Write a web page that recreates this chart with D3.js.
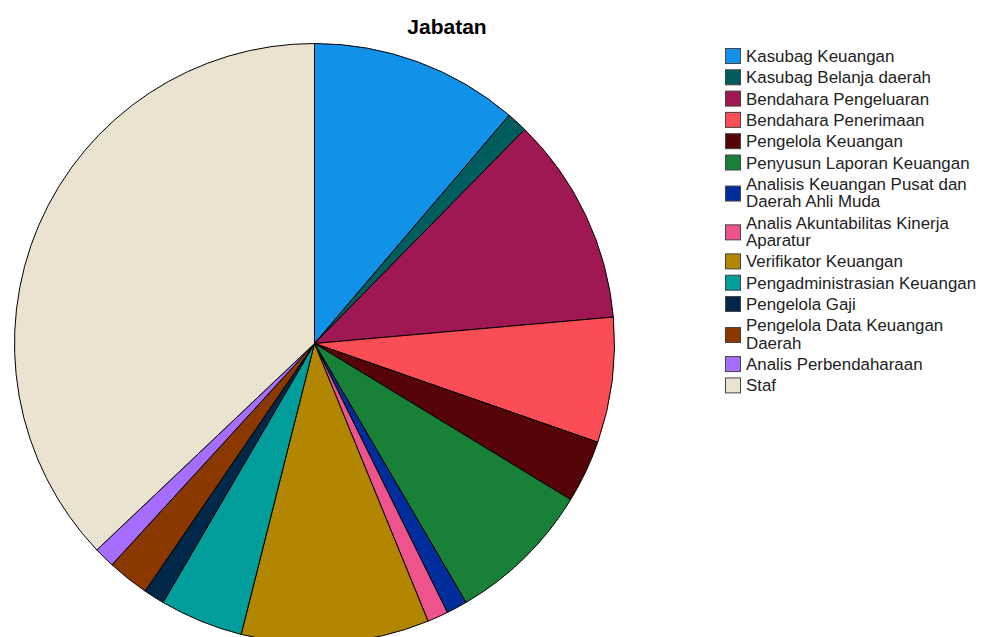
<!DOCTYPE html>
<html>
<head>
<meta charset="utf-8">
<script src="https://cdn.jsdelivr.net/npm/d3@7"></script>
<style>
  body { margin: 0; background: #fff; }
  svg { display: block; font-family: "Liberation Sans", Arial, sans-serif; }
</style>
</head>
<body>
<svg id="chart" width="984" height="637"></svg>
<script>
// jabatan categories (legend order = slice order, clockwise from 12 o'clock)
const categories = [
  ['Kasubag Keuangan'],
  ['Kasubag Belanja daerah'],
  ['Bendahara Pengeluaran'],
  ['Bendahara Penerimaan'],
  ['Pengelola Keuangan'],
  ['Penyusun Laporan Keuangan'],
  ['Analisis Keuangan Pusat dan', 'Daerah Ahli Muda'],
  ['Analis Akuntabilitas Kinerja', 'Aparatur'],
  ['Verifikator Keuangan'],
  ['Pengadministrasian Keuangan'],
  ['Pengelola Gaji'],
  ['Pengelola Data Keuangan', 'Daerah'],
  ['Analis Perbendaharaan'],
  ['Staf']
]
const counts = [10, 1, 10, 6, 3, 7, 1, 1, 9, 4, 1, 2, 1, 33]
const colors = ['#1192e8', '#005d5d', '#9f1853', '#fa4d56', '#570408', '#198038', '#002d9c',
  '#ee538b', '#b28600', '#009d9a', '#012749', '#8a3800', '#a56eff', '#e9e3d0']

const data = categories.map((c, i) => ({lines: c, value: counts[i], color: colors[i]}))

const svg = d3.select('#chart')

svg.append('text')
  .attr('x', 447)
  .attr('y', 34)
  .attr('text-anchor', 'middle')
  .attr('font-size', 21)
  .attr('font-weight', 'bold')
  .attr('fill', '#000')
  .text('Jabatan')

const cx = 314.5
const cy = 343.5
const radius = 300

const pie = d3.pie().sort(null).value(d => d.value)
const arc = d3.arc().innerRadius(0).outerRadius(radius)

svg.append('g')
  .attr('transform', `translate(${cx}, ${cy})`)
  .selectAll('path')
  .data(pie(data))
  .join('path')
  .attr('d', arc)
  .attr('fill', d => d.data.color)
  .attr('stroke', '#000')
  .attr('stroke-width', 1)
  .attr('stroke-linejoin', 'round')

// legend
const legend = svg.append('g').attr('transform', 'translate(725, 0)')
const rowStep = 21.3
const lineStep = 17.5
let y = 56
data.forEach(d => {
  const n = d.lines.length
  const mid = y + (n - 1) * lineStep / 2 + (n > 1 ? 1 : 0)
  legend.append('rect')
    .attr('x', 0.5)
    .attr('y', mid - 7.5)
    .attr('width', 15)
    .attr('height', 15)
    .attr('fill', d.color)
    .attr('stroke', '#444')
    .attr('stroke-width', 1)
  d.lines.forEach((t, j) => {
    legend.append('text')
      .attr('x', 21)
      .attr('y', y + j * lineStep)
      .attr('dy', '0.36em')
      .attr('font-size', 16.9)
      .attr('fill', '#222')
      .text(t)
  })
  y += rowStep + (n - 1) * lineStep
})
</script>
</body>
</html>
